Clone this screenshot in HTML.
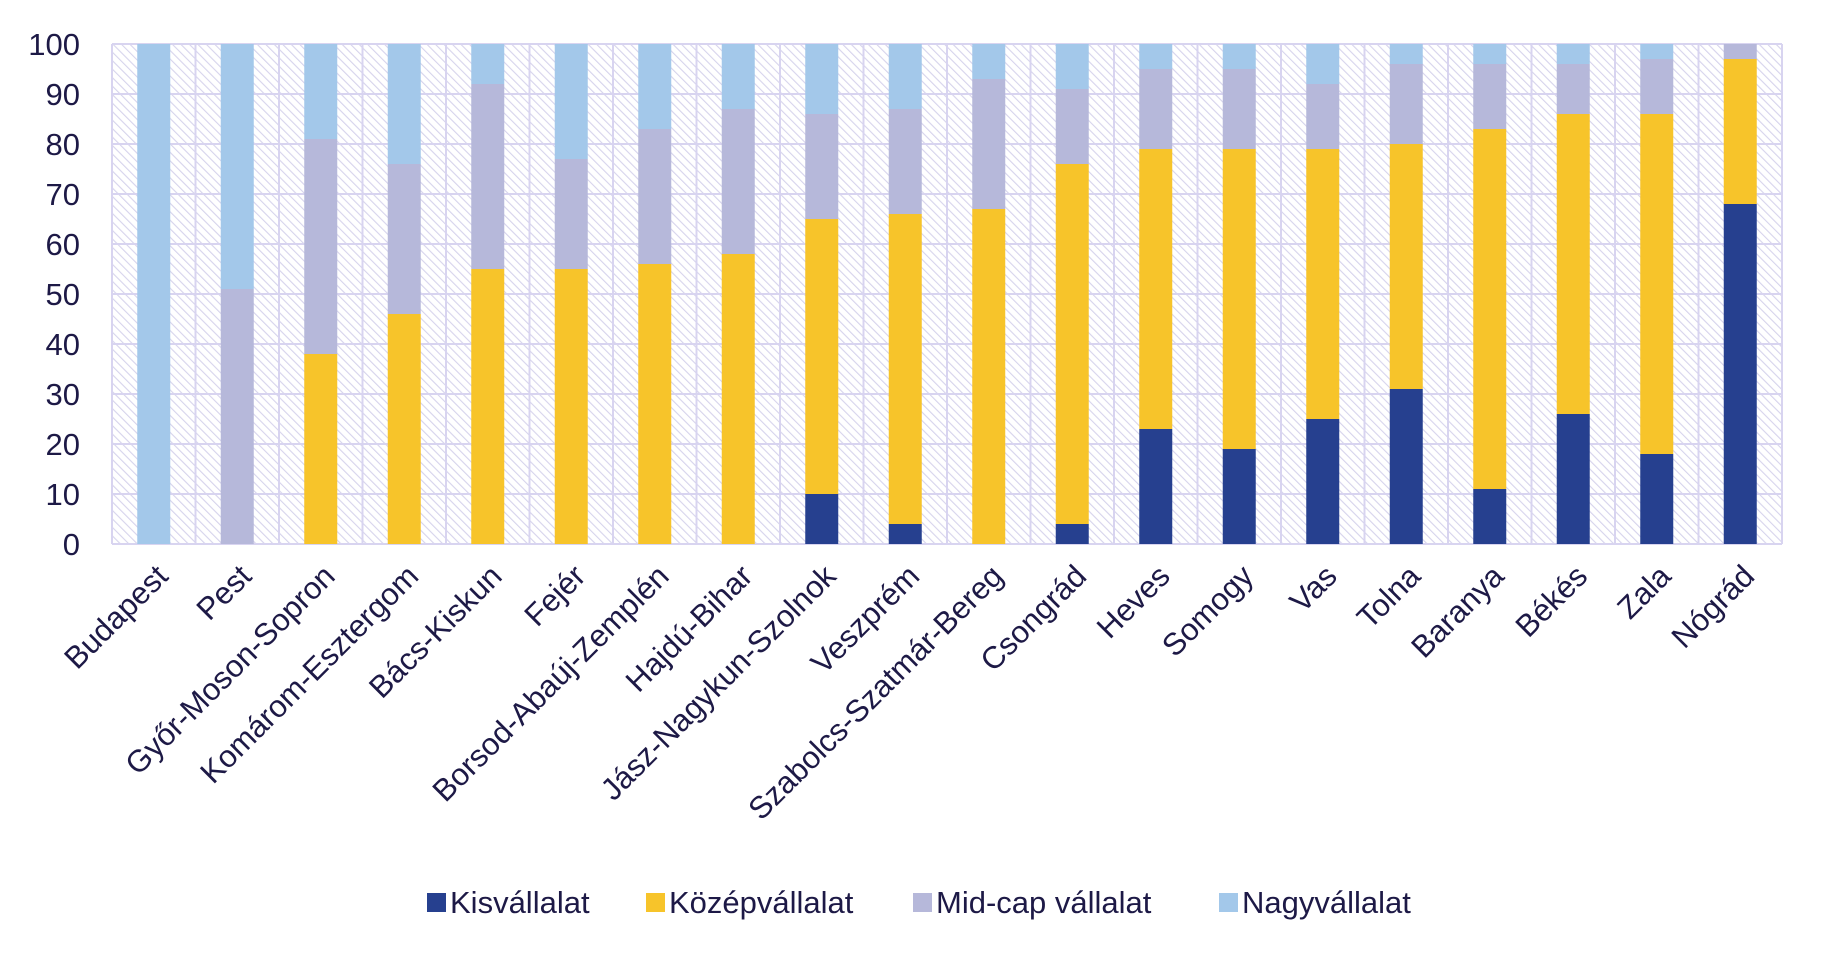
<!DOCTYPE html>
<html><head><meta charset="utf-8"><style>
html,body{margin:0;padding:0;background:#fff;}
svg{display:block;font-family:"Liberation Sans",sans-serif;}
</style></head><body>
<svg id="chart" width="1822" height="957" viewBox="0 0 1822 957">
<defs>
<pattern id="hatch" width="6" height="6" patternUnits="userSpaceOnUse" patternTransform="rotate(-45)">
<rect width="6" height="6" fill="#ffffff"/>
<line x1="0" y1="0" x2="0" y2="6" stroke="#d6d3ec" stroke-width="2.2"/>
</pattern>
</defs>
<g id="plot"></g>
<g id="legend"></g>
</svg>
<script>
const categories=["Budapest","Pest","Győr-Moson-Sopron","Komárom-Esztergom","Bács-Kiskun","Fejér","Borsod-Abaúj-Zemplén","Hajdú-Bihar","Jász-Nagykun-Szolnok","Veszprém","Szabolcs-Szatmár-Bereg","Csongrád","Heves","Somogy","Vas","Tolna","Baranya","Békés","Zala","Nógrád"];
const kis=[0,0,0,0,0,0,0,0,10,4,0,4,23,19,25,31,11,26,18,68];
const kozep=[0,0,38,46,55,55,56,58,55,62,67,72,56,60,54,49,72,60,68,29];
const midcap=[0,51,43,30,37,22,27,29,21,21,26,15,16,16,13,16,13,10,11,3];
const nagy=[100,49,19,24,8,23,17,13,14,13,7,9,5,5,8,4,4,4,3,0];
const yTicks=[0,10,20,30,40,50,60,70,80,90,100];
const seriesNames=["Kisvállalat","Középvállalat","Mid-cap vállalat","Nagyvállalat"];

const NS="http://www.w3.org/2000/svg";
const L=112,R=1782,T=44,B=544;
const band=(R-L)/categories.length, bw=33;
const colors=["#26408f","#f7c42a","#b6b8da","#a3c8ea"];
const series=[kis,kozep,midcap,nagy];
const slug=["kisvallalat","kozepvallalat","mid-cap","nagyvallalat"];
function y(v){return B-(v/100)*(B-T);}
function x(i){return L+band*i+band/2;}
function mk(tag,attrs,parent){const e=document.createElementNS(NS,tag);for(const k in attrs)e.setAttribute(k,attrs[k]);parent.appendChild(e);return e;}
const plot=document.getElementById('plot');
const bg=mk('rect',{x:L,y:T,width:R-L,height:B-T,fill:'url(#hatch)'},plot);


yTicks.forEach(t=>{
  const g=mk('line',{x1:L,x2:R,y1:y(t),y2:y(t),stroke:'#d8d4f0','stroke-width':2},plot);
  
  
  const tx=mk('text',{x:L-32,y:y(t)+11,'text-anchor':'end','font-size':31,fill:'#1d1946'},plot);
  tx.textContent=t;
  
  
});
for(let i=0;i<=categories.length;i++){
  const gx=L+band*i;
  const g=mk('line',{x1:gx,x2:gx,y1:T,y2:B,stroke:'#d8d4f0','stroke-width':2},plot);
  
  
}
categories.forEach((c,i)=>{
  let base=0;
  series.forEach((s,k)=>{
    const v=s[i];
    if(v>0){
      const r=mk('rect',{x:x(i)-bw/2,y:y(base+v),width:bw,height:y(base)-y(base+v),fill:colors[k]},plot);
      
      
    }
    base+=v;
  });
  const tx=mk('text',{x:0,y:0,'text-anchor':'end','font-size':31,fill:'#1d1946',transform:`translate(${x(i)+16},${B+34}) rotate(-45)`},plot);
  tx.textContent=c;
  
  
});
const leg=document.getElementById('legend');
const lx=[427,646,913,1219];
seriesNames.forEach((n,k)=>{
  const r=mk('rect',{x:lx[k],y:893,width:19,height:19,fill:colors[k]},leg);
  
  
  const t=mk('text',{x:lx[k]+23,y:913,'font-size':31,fill:'#1d1946'},leg);
  t.textContent=n;
  
  
});
</script>
</body></html>
